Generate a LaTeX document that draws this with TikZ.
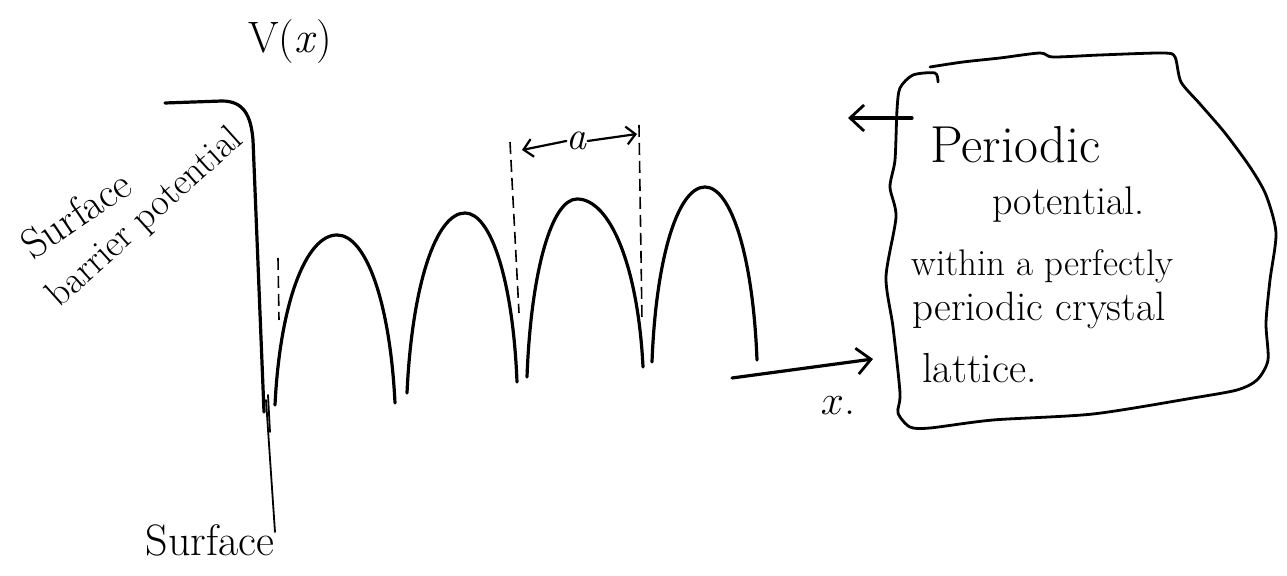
\documentclass[tikz,border=0pt]{standalone}
\usepackage{fontspec}
\usetikzlibrary{arrows.meta}
\tikzset{
  ink/.style={line width=1.6pt, line cap=round, line join=round, black},
  thinink/.style={line width=0.9pt, line cap=round, black},
  dashink/.style={line width=0.8pt, dash pattern=on 6pt off 3pt, black},
  barb/.style={-{Straight Barb[length=7pt,width=13pt,line width=1.4pt]}},
  smallbarb/.style={-{Straight Barb[length=4.5pt,width=9pt,line width=1.1pt]}},
  txt/.style={inner sep=0pt, text=black},
}
\begin{document}
\begin{tikzpicture}[x=0.5pt,y=-0.5pt]
\useasboundingbox (0,0) rectangle (1287,576);
\fill[white] (0,0) rectangle (1287,576);

% V(x) label
\node[txt] (vx) at (290,42) {\fontsize{22}{24}\selectfont V(\textit{x})};

% surface barrier potential
\draw[ink] (165,103) -- (222,101) .. controls (244,101) and (251,116) .. (253,140) -- (264,412);
\coordinate (surftop) at (266,400);
\coordinate (surfbot) at (275,532);
\draw[thinink] (surftop) -- (surfbot);
\draw[thinink] (268,395) -- (270,432);

% rotated labels
\node[txt, rotate=34] (sf) at (76,214) {\fontsize{21}{23}\selectfont Surface};
\node[txt, rotate=42] (bp) at (146,218) {\fontsize{19}{21}\selectfont barrier potential};
\node[txt] (surf) at (210,540) {\fontsize{22}{24}\selectfont Surface};

% arches
\draw[ink] (275,405) .. controls (280,303) and (306,235) .. (337,235)
                     .. controls (366,235) and (390,302) .. (395,403);
\draw[ink] (407,393) .. controls (412,285) and (436,213) .. (465,213)
                     .. controls (491,213) and (513,281) .. (517,382);
\draw[ink] (527,377) .. controls (531,270) and (552,199) .. (577,199)
                     .. controls (610,199) and (638,266) .. (643,367);
\draw[ink] (652,362) .. controls (656,257) and (678,187) .. (705,187)
                     .. controls (731,187) and (753,256) .. (757,360);

% dashed guides
\draw[dashink] (278,258) -- (279,320);
\draw[dashink] (510,142) -- (519,313);
\draw[dashink] (639,125) -- (642,320);

% period a
\node[txt] (a) at (577,141) {\fontsize{20}{22}\selectfont \textit{a}};
\coordinate (aL) at (522,150);
\coordinate (aR) at (637,134);
\draw[thinink, line width=1.1pt, smallbarb] (a.west) -- (aL);
\draw[thinink, line width=1.1pt, smallbarb] (a.east) -- (aR);

% x axis
\coordinate (xs) at (732,378);
\coordinate (xe) at (873,359);
\draw[ink, barb] (xs) -- (xe);
\node[txt] (xl) at (838,406) {\fontsize{22}{24}\selectfont $x$.};

% note box
\draw[ink, line width=1.4pt] plot[smooth, tension=0.45] coordinates {
 (930,67) (963,62) (1000,58) (1040,53) (1053,57) (1100,55) (1163,53) (1175,57)
 (1181,82) (1200,104) (1225,133) (1250,167) (1266,195) (1276,233) (1270,280) (1266,323)
 (1268,360) (1257,380) (1237,390) (1193,398) (1093,414) (993,420) (930,428)
 (910,427) (898,413) (900,393) (893,327) (886,277) (896,217) (890,187)
 (895,160) (897,110) (900,88) (913,75) (935,73) (938,82)};
\coordinate (boxarr) at (912,118);
\coordinate (potarr) at (848,118);
\draw[ink, barb] (boxarr) -- (potarr);

\node[txt, anchor=base west] (t1) at (930,163) {\fontsize{26}{28}\selectfont Periodic};
\node[txt, anchor=base west] (t2) at (992,215) {\fontsize{20}{22}\selectfont potential.};
\node[txt, anchor=base west] (t3) at (911,276) {\fontsize{18.5}{20}\selectfont within a perfectly};
\node[txt, anchor=base west] (t4) at (912,321) {\fontsize{20.5}{22}\selectfont periodic crystal};
\node[txt, anchor=base west] (t5) at (922,383) {\fontsize{21}{23}\selectfont lattice.};
\end{tikzpicture}
\end{document}
